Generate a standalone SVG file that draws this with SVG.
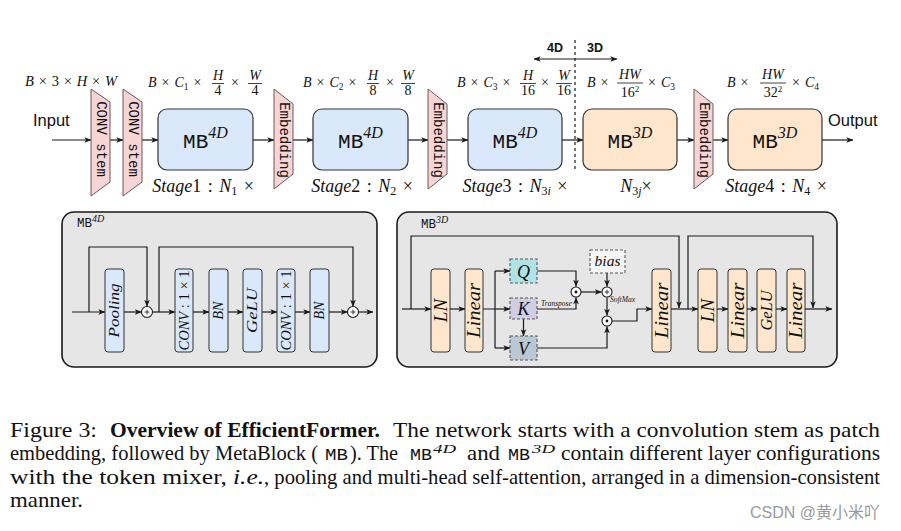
<svg xmlns="http://www.w3.org/2000/svg" width="901" height="531" viewBox="0 0 901 531">
<defs>
<marker id="ah" viewBox="0 0 10 10" refX="9.5" refY="5" markerWidth="7" markerHeight="7" orient="auto-start-reverse" markerUnits="userSpaceOnUse">
<path d="M0,1 L10,5 L0,9 L2.5,5 z" fill="#1a1a1a"/>
</marker>
</defs>
<style>
.b4{fill:#dae8fc;stroke:#333;stroke-width:1.2}
.b3{fill:#ffe6cc;stroke:#333;stroke-width:1.2}
.sb4{fill:#dae8fc;stroke:#333;stroke-width:1}
.sb3{fill:#ffe6cc;stroke:#333;stroke-width:1}
.trap{fill:#f8d5d5;stroke:#6a5858;stroke-width:1}
.panel{fill:#e6e6e6;stroke:#1a1a1a;stroke-width:1.6}
.ln{fill:none;stroke:#1a1a1a;stroke-width:1.2}
.ar{marker-end:url(#ah)}
.dash{stroke-dasharray:3,2;stroke:#555;stroke-width:1.1}
.m{font-family:"Liberation Serif",serif;font-style:italic;fill:#111}
.r{font-family:"Liberation Serif",serif;font-style:normal;fill:#111}
.tt{font-family:"Liberation Mono",monospace;fill:#111}
.sans{font-family:"Liberation Sans",Arial,sans-serif;fill:#111}
.circ{fill:#fff;stroke:#1a1a1a;stroke-width:1.1}
.cap{font-family:"Liberation Serif",serif;font-size:21px;fill:#111}
</style>

<!-- ===== Top row connectors ===== -->
<g id="connectors-top">
<path class="ln ar" d="M52,140 H91"/>
<path class="ln ar" d="M110,140 H123"/>
<path class="ln ar" d="M142,140 H158"/>
<path class="ln ar" d="M253,140 H274"/>
<path class="ln ar" d="M293,140 H313"/>
<path class="ln ar" d="M408,140 H428"/>
<path class="ln ar" d="M447,140 H468"/>
<path class="ln ar" d="M562,140 H583"/>
<path class="ln ar" d="M677,140 H694"/>
<path class="ln ar" d="M713,140 H728"/>
<path class="ln ar" d="M822,140 H853"/>
<path class="ln" d="M575,40 V172" stroke-dasharray="3,3" stroke-width="1"/>
<path class="ln" d="M534,59 H617" style="marker-start:url(#ah);marker-end:url(#ah)"/>
</g>

<text x="547" y="52" class="sans" font-size="12.5" font-weight="bold">4D</text>
<text x="587" y="52" class="sans" font-size="12.5" font-weight="bold">3D</text>

<text x="33" y="126" class="sans" font-size="16.5">Input</text>
<text x="828" y="126" class="sans" font-size="16.5">Output</text>

<text x="25" y="86" class="m" font-size="14.5" word-spacing="1.2">B <tspan class="r">× 3 ×</tspan> H <tspan class="r">×</tspan> W</text>

<g id="conv-stem-1">
<polygon class="trap" points="91,89 110,102 110,182 91,196"/>
<text transform="translate(101,139) rotate(90)" class="tt" font-size="14" text-anchor="middle" dominant-baseline="central">CONV stem</text>
</g>
<g id="conv-stem-2">
<polygon class="trap" points="123,89 142,102 142,182 123,196"/>
<text transform="translate(133,139) rotate(90)" class="tt" font-size="14" text-anchor="middle" dominant-baseline="central">CONV stem</text>
</g>

<g id="stage1">
<rect class="b4" x="158" y="109" width="95" height="61" rx="9"/>
<text x="205.5" y="148" text-anchor="middle" class="tt" font-size="21">MB<tspan class="m" font-size="16" dy="-10">4D</tspan></text>
<text x="148" y="87" class="m" font-size="14" word-spacing="1.5">B <tspan class="r">×</tspan> C<tspan class="r" font-size="9.5" dy="2.5">1</tspan><tspan class="r" dy="-2.5"> ×</tspan></text>
<text x="218" y="80" class="m" font-size="14" text-anchor="middle">H</text>
<path d="M212,83.5 H224" stroke="#111" stroke-width="0.8"/>
<text x="218" y="95" class="r" font-size="14" text-anchor="middle">4</text>
<text x="235" y="87" class="r" font-size="14" text-anchor="middle">×</text>
<text x="255" y="80" class="m" font-size="14" text-anchor="middle">W</text>
<path d="M248,83.5 H262" stroke="#111" stroke-width="0.8"/>
<text x="255" y="95" class="r" font-size="14" text-anchor="middle">4</text>
<text x="203" y="192" text-anchor="middle" class="m" font-size="18" word-spacing="2">Stage<tspan class="r">1 : </tspan>N<tspan class="r" font-size="12" dy="3">1</tspan><tspan class="r" dy="-3"> ×</tspan></text>
</g>

<g id="embedding-1">
<polygon class="trap" points="274,89 293,104 293,174 274,189"/>
<text transform="translate(284,140) rotate(90)" class="tt" font-size="14" text-anchor="middle" dominant-baseline="central">Embedding</text>
</g>

<g id="stage2">
<rect class="b4" x="313" y="109" width="95" height="61" rx="9"/>
<text x="360.5" y="148" text-anchor="middle" class="tt" font-size="21">MB<tspan class="m" font-size="16" dy="-10">4D</tspan></text>
<text x="303" y="87" class="m" font-size="14" word-spacing="1.5">B <tspan class="r">×</tspan> C<tspan class="r" font-size="9.5" dy="2.5">2</tspan><tspan class="r" dy="-2.5"> ×</tspan></text>
<text x="373" y="80" class="m" font-size="14" text-anchor="middle">H</text>
<path d="M367,83.5 H379" stroke="#111" stroke-width="0.8"/>
<text x="373" y="95" class="r" font-size="14" text-anchor="middle">8</text>
<text x="390" y="87" class="r" font-size="14" text-anchor="middle">×</text>
<text x="408" y="80" class="m" font-size="14" text-anchor="middle">W</text>
<path d="M401,83.5 H415" stroke="#111" stroke-width="0.8"/>
<text x="408" y="95" class="r" font-size="14" text-anchor="middle">8</text>
<text x="362" y="192" text-anchor="middle" class="m" font-size="18" word-spacing="2">Stage<tspan class="r">2 : </tspan>N<tspan class="r" font-size="12" dy="3">2</tspan><tspan class="r" dy="-3"> ×</tspan></text>
</g>

<g id="embedding-2">
<polygon class="trap" points="428,89 447,104 447,174 428,189"/>
<text transform="translate(438,140) rotate(90)" class="tt" font-size="14" text-anchor="middle" dominant-baseline="central">Embedding</text>
</g>

<g id="stage3">
<rect class="b4" x="468" y="109" width="94" height="61" rx="9"/>
<text x="515" y="148" text-anchor="middle" class="tt" font-size="21">MB<tspan class="m" font-size="16" dy="-10">4D</tspan></text>
<text x="457" y="87" class="m" font-size="14" word-spacing="1.5">B <tspan class="r">×</tspan> C<tspan class="r" font-size="9.5" dy="2.5">3</tspan><tspan class="r" dy="-2.5"> ×</tspan></text>
<text x="528" y="80" class="m" font-size="14" text-anchor="middle">H</text>
<path d="M520,83.5 H536" stroke="#111" stroke-width="0.8"/>
<text x="528" y="95" class="r" font-size="14" text-anchor="middle">16</text>
<text x="545" y="87" class="r" font-size="14" text-anchor="middle">×</text>
<text x="564" y="80" class="m" font-size="14" text-anchor="middle">W</text>
<path d="M556,83.5 H572" stroke="#111" stroke-width="0.8"/>
<text x="564" y="95" class="r" font-size="14" text-anchor="middle">16</text>
<text x="515" y="192" text-anchor="middle" class="m" font-size="18" word-spacing="2">Stage<tspan class="r">3 : </tspan>N<tspan font-size="12" dy="3"><tspan class="r">3</tspan>i</tspan><tspan class="r" dy="-3"> ×</tspan></text>
</g>

<g id="stage3-3d">
<rect class="b3" x="583" y="109" width="94" height="61" rx="9"/>
<text x="630" y="148" text-anchor="middle" class="tt" font-size="21">MB<tspan class="m" font-size="16" dy="-10">3D</tspan></text>
<text x="587" y="87" class="m" font-size="14" word-spacing="1.5">B <tspan class="r">×</tspan></text>
<text x="630" y="79" class="m" font-size="14" text-anchor="middle">HW</text>
<path d="M617,83 H643" stroke="#111" stroke-width="0.8"/>
<text x="630" y="97" class="r" font-size="14" text-anchor="middle">16<tspan font-size="9" dy="-5">2</tspan></text>
<text x="648" y="87" class="r" font-size="14" word-spacing="1.5">× <tspan class="m">C</tspan><tspan font-size="9.5" dy="2.5">3</tspan></text>
<text x="636" y="192" text-anchor="middle" class="m" font-size="18">N<tspan font-size="12" dy="3"><tspan class="r">3</tspan>j</tspan><tspan class="r" dy="-3">×</tspan></text>
</g>

<g id="embedding-3">
<polygon class="trap" points="694,89 713,104 713,174 694,189"/>
<text transform="translate(704,140) rotate(90)" class="tt" font-size="14" text-anchor="middle" dominant-baseline="central">Embedding</text>
</g>

<g id="stage4">
<rect class="b3" x="728" y="109" width="94" height="61" rx="9"/>
<text x="775" y="148" text-anchor="middle" class="tt" font-size="21">MB<tspan class="m" font-size="16" dy="-10">3D</tspan></text>
<text x="727" y="87" class="m" font-size="14" word-spacing="1.5">B <tspan class="r">×</tspan></text>
<text x="773" y="79" class="m" font-size="14" text-anchor="middle">HW</text>
<path d="M760,83 H786" stroke="#111" stroke-width="0.8"/>
<text x="773" y="97" class="r" font-size="14" text-anchor="middle">32<tspan font-size="9" dy="-5">2</tspan></text>
<text x="792" y="87" class="r" font-size="14" word-spacing="1.5">× <tspan class="m">C</tspan><tspan font-size="9.5" dy="2.5">4</tspan></text>
<text x="776" y="192" text-anchor="middle" class="m" font-size="18" word-spacing="2">Stage<tspan class="r">4 : </tspan>N<tspan class="r" font-size="12" dy="3">4</tspan><tspan class="r" dy="-3"> ×</tspan></text>
</g>

<!-- ===== MB4D panel ===== -->
<g id="panel-mb4d">
<rect class="panel" x="62" y="212" width="315" height="155" rx="12"/>
<text x="77" y="227" class="tt" font-size="12.5">MB<tspan class="m" font-size="10" dy="-5">4D</tspan></text>
</g>
<g id="connectors-mb4d">
<path class="ln ar" d="M72,312 H105"/>
<path class="ln ar" d="M89,312 V247 H147 V306.5"/>
<path class="ln ar" d="M124,312 H141.5"/>
<path class="ln ar" d="M152.5,312 H175"/>
<path class="ln ar" d="M159,312 V247 H353 V306.5"/>
<path class="ln ar" d="M193,312 H209"/>
<path class="ln ar" d="M228,312 H243"/>
<path class="ln ar" d="M262,312 H277"/>
<path class="ln ar" d="M295,312 H310"/>
<path class="ln ar" d="M329,312 H347.5"/>
<path class="ln ar" d="M358.5,312 H373"/>
</g>
<g id="add-4d-1"><circle class="circ" cx="147" cy="312" r="5.5"/><path d="M144.5,312 H149.5 M147,309.5 V314.5" stroke="#111" stroke-width="0.8"/></g>
<g id="add-4d-2"><circle class="circ" cx="353" cy="312" r="5.5"/><path d="M350.5,312 H355.5 M353,309.5 V314.5" stroke="#111" stroke-width="0.8"/></g>
<g id="pooling"><rect class="sb4" x="105" y="269" width="19" height="83" rx="3"/>
<text transform="translate(114.5,310.5) rotate(-90)" class="m" font-size="14" text-anchor="middle" dominant-baseline="central" textLength="54" lengthAdjust="spacingAndGlyphs">Pooling</text></g>
<g id="conv1x1-a"><rect class="sb4" x="175" y="269" width="18" height="83" rx="3"/>
<text transform="translate(184,310.5) rotate(-90)" class="m" font-size="14" text-anchor="middle" dominant-baseline="central" textLength="80" lengthAdjust="spacingAndGlyphs">CONV<tspan class="r"> : 1 × 1</tspan></text></g>
<g id="bn-a"><rect class="sb4" x="209" y="269" width="19" height="83" rx="3"/>
<text transform="translate(218.5,310.5) rotate(-90)" class="m" font-size="14" text-anchor="middle" dominant-baseline="central">BN</text></g>
<g id="gelu-a"><rect class="sb4" x="243" y="269" width="19" height="83" rx="3"/>
<text transform="translate(252.5,310.5) rotate(-90)" class="m" font-size="14" text-anchor="middle" dominant-baseline="central" textLength="45" lengthAdjust="spacingAndGlyphs">GeLU</text></g>
<g id="conv1x1-b"><rect class="sb4" x="277" y="269" width="18" height="83" rx="3"/>
<text transform="translate(286,310.5) rotate(-90)" class="m" font-size="14" text-anchor="middle" dominant-baseline="central" textLength="80" lengthAdjust="spacingAndGlyphs">CONV<tspan class="r"> : 1 × 1</tspan></text></g>
<g id="bn-b"><rect class="sb4" x="310" y="269" width="19" height="83" rx="3"/>
<text transform="translate(319.5,310.5) rotate(-90)" class="m" font-size="14" text-anchor="middle" dominant-baseline="central">BN</text></g>

<!-- ===== MB3D panel ===== -->
<g id="panel-mb3d">
<rect class="panel" x="397" y="212" width="440" height="155" rx="12"/>
<text x="421" y="228" class="tt" font-size="12.5">MB<tspan class="m" font-size="10" dy="-5">3D</tspan></text>
</g>
<g id="connectors-mb3d">
<path class="ln ar" d="M402,309 H431"/>
<path class="ln ar" d="M411,309 V236 H679 V308"/>
<path class="ln ar" d="M450,309 H465"/>
<path class="ln" d="M483,309 H495 M495,271 V348"/>
<path class="ln ar" d="M495,271 H510"/>
<path class="ln ar" d="M495,309 H510"/>
<path class="ln ar" d="M495,348 H510"/>
<path class="ln ar" d="M537,271 H576 V286.5"/>
<path class="ln ar" d="M537,309 H576 V297.5"/>
<path class="ln ar" d="M523.5,319 V336"/>
<path class="ln ar" d="M581,292 H601.5"/>
<path class="ln ar" d="M607,273 V286.5"/>
<path class="ln ar" d="M607,297.5 V315.5"/>
<path class="ln ar" d="M537,348 H607 V326.5"/>
<path class="ln ar" d="M612,321 H637 V309 H652"/>
<path class="ln ar" d="M671,309 H698"/>
<path class="ln ar" d="M688,309 V236 H813 V308"/>
<path class="ln ar" d="M717,309 H728"/>
<path class="ln ar" d="M747,309 H757"/>
<path class="ln ar" d="M776,309 H787"/>
<path class="ln ar" d="M805,309 H832"/>
</g>
<text x="541" y="306" class="m" font-size="7.5">Transpose</text>
<text x="610" y="302" class="m" font-size="7.5">SoftMax</text>
<g id="ln-a"><rect class="sb3" x="431" y="269" width="19" height="83" rx="3"/>
<text transform="translate(440.5,310.5) rotate(-90)" class="m" font-size="19" text-anchor="middle" dominant-baseline="central">LN</text></g>
<g id="linear-a"><rect class="sb3" x="465" y="269" width="18" height="83" rx="3"/>
<text transform="translate(474,310.5) rotate(-90)" class="m" font-size="18" text-anchor="middle" dominant-baseline="central" textLength="55" lengthAdjust="spacingAndGlyphs">Linear</text></g>
<g id="q"><rect x="510" y="259" width="27" height="24" fill="#b0e3e6" class="dash"/>
<text x="523.5" y="277.5" class="m" font-size="18" text-anchor="middle">Q</text></g>
<g id="k"><rect x="510" y="298" width="27" height="21" fill="#d0cee2" class="dash"/>
<text x="523.5" y="315" class="m" font-size="18" text-anchor="middle">K</text></g>
<g id="v"><rect x="510" y="336" width="27" height="24" fill="#bac8d3" class="dash"/>
<text x="523.5" y="354.5" class="m" font-size="18" text-anchor="middle">V</text></g>
<g id="matmul-1"><circle class="circ" cx="576" cy="292" r="5"/><circle cx="576" cy="292" r="1.4" fill="#111"/></g>
<g id="bias"><rect x="590" y="250" width="35" height="23" fill="#f5f5f5" class="dash"/>
<text x="607.5" y="266" class="m" font-size="15.5" text-anchor="middle">bias</text></g>
<g id="add-3d"><circle class="circ" cx="607" cy="292" r="5"/><path d="M604.6,292 H609.4 M607,289.6 V294.4" stroke="#111" stroke-width="0.8"/></g>
<g id="matmul-2"><circle class="circ" cx="607" cy="321" r="5"/><circle cx="607" cy="321" r="1.4" fill="#111"/></g>
<g id="linear-b"><rect class="sb3" x="652" y="269" width="19" height="83" rx="3"/>
<text transform="translate(661.5,310.5) rotate(-90)" class="m" font-size="18" text-anchor="middle" dominant-baseline="central" textLength="56" lengthAdjust="spacingAndGlyphs">Linear</text></g>
<g id="ln-b"><rect class="sb3" x="698" y="269" width="19" height="83" rx="3"/>
<text transform="translate(707.5,310.5) rotate(-90)" class="m" font-size="19" text-anchor="middle" dominant-baseline="central">LN</text></g>
<g id="linear-c"><rect class="sb3" x="728" y="269" width="19" height="83" rx="3"/>
<text transform="translate(737.5,310.5) rotate(-90)" class="m" font-size="18" text-anchor="middle" dominant-baseline="central" textLength="56" lengthAdjust="spacingAndGlyphs">Linear</text></g>
<g id="gelu-b"><rect class="sb3" x="757" y="269" width="19" height="83" rx="3"/>
<text transform="translate(766.5,310.5) rotate(-90)" class="m" font-size="17" text-anchor="middle" dominant-baseline="central" textLength="40" lengthAdjust="spacingAndGlyphs">GeLU</text></g>
<g id="linear-d"><rect class="sb3" x="787" y="269" width="18" height="83" rx="3"/>
<text transform="translate(796,310.5) rotate(-90)" class="m" font-size="18" text-anchor="middle" dominant-baseline="central" textLength="56" lengthAdjust="spacingAndGlyphs">Linear</text></g>

<!-- ===== Caption ===== -->
<g id="caption">
<text class="cap" x="10" y="437" textLength="87" lengthAdjust="spacingAndGlyphs">Figure 3:</text>
<text class="cap" x="110" y="437" font-weight="bold" textLength="270" lengthAdjust="spacingAndGlyphs">Overview of EfficientFormer.</text>
<text class="cap" x="393" y="437" textLength="487" lengthAdjust="spacingAndGlyphs">The network starts with a convolution stem as patch</text>

<text class="cap" x="10" y="460" textLength="308" lengthAdjust="spacingAndGlyphs">embedding, followed by MetaBlock (</text>
<text class="tt" x="325" y="460" font-size="17" textLength="23" lengthAdjust="spacingAndGlyphs">MB</text>
<text class="cap" x="350" y="460" textLength="48" lengthAdjust="spacingAndGlyphs">). The</text>
<text class="tt" x="410" y="460" font-size="17" textLength="22" lengthAdjust="spacingAndGlyphs">MB</text>
<text class="m" x="433" y="453" font-size="13" textLength="23" lengthAdjust="spacingAndGlyphs">4D</text>
<text class="cap" x="467" y="460" textLength="33" lengthAdjust="spacingAndGlyphs">and</text>
<text class="tt" x="508" y="460" font-size="17" textLength="22" lengthAdjust="spacingAndGlyphs">MB</text>
<text class="m" x="532" y="453" font-size="13" textLength="23" lengthAdjust="spacingAndGlyphs">3D</text>
<text class="cap" x="561" y="460" textLength="319" lengthAdjust="spacingAndGlyphs">contain different layer configurations</text>

<text class="cap" x="10" y="484" textLength="217" lengthAdjust="spacingAndGlyphs">with the token mixer,</text>
<text class="cap" x="233" y="484" font-style="italic" textLength="31" lengthAdjust="spacingAndGlyphs">i.e.</text>
<text class="cap" x="264" y="484" textLength="616" lengthAdjust="spacingAndGlyphs">, pooling and multi-head self-attention, arranged in a dimension-consistent</text>

<text class="cap" x="10" y="507" textLength="73" lengthAdjust="spacingAndGlyphs">manner.</text>
</g>

<text x="750" y="518" font-family="'Liberation Sans','Noto Sans CJK SC',sans-serif" font-size="16" fill="#9a9a9a">CSDN @黄小米吖</text>
</svg>
